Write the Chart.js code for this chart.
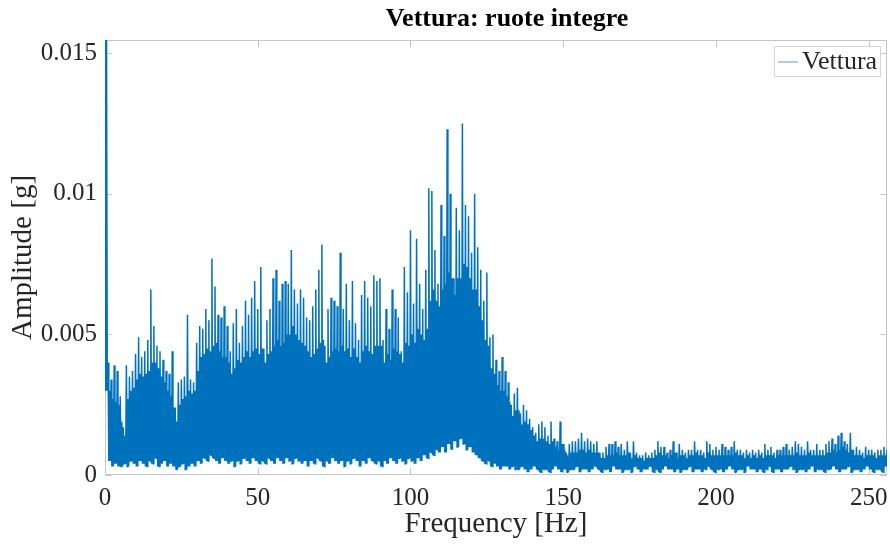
<!DOCTYPE html>
<html>
<head>
<meta charset="utf-8">
<title>Vettura: ruote integre</title>
<script src="https://cdn.jsdelivr.net/npm/chart.js@4/dist/chart.umd.min.js"></script>
<style>
  html, body { margin: 0; padding: 0; background: #ffffff; }
  canvas { display: block; }
</style>
</head>
<body>
<canvas id="spectrum" width="890" height="546"></canvas>
<script>
// Amplitude spectrum, one entry per 1 Hz bin (0..256 Hz), in units of 0.1 mg
const UNIT = 1e-4;

// highest spike in each bin
const spikeTop = [
  154.7, 40, 34, 39, 37, 28, 17, 39, 35, 37,
  43, 49, 42, 44, 48, 66, 53, 46, 44, 41,
  37, 36, 44, 24, 33, 34, 35, 57, 34, 33,
  47, 53, 52, 59, 55, 77, 67, 57, 56, 60,
  53, 44, 54, 59, 47, 53, 62, 57, 63, 69,
  59, 74, 45, 55, 59, 70, 73, 62, 68, 69,
  68, 80, 66, 61, 66, 63, 56, 55, 60, 66,
  73, 82, 46, 59, 63, 62, 60, 79, 59, 68,
  55, 69, 54, 48, 64, 69, 63, 60, 71, 69,
  70, 48, 59, 52, 66, 59, 56, 44, 74, 65,
  87, 61, 84, 68, 59, 73, 102, 101, 80, 68,
  96, 85, 123, 100, 70, 95, 87, 125, 96, 92,
  79, 100, 81, 73, 62, 72, 49, 50, 41, 37,
  42, 37, 33, 25, 29, 31, 22, 25, 23, 20,
  17, 15, 18, 19, 17, 14, 19, 13, 12, 19,
  11, 8, 11, 12, 12, 13, 15, 12, 13, 12,
  11, 12, 8, 8, 10, 11, 11, 12, 10, 11,
  9, 12, 8, 12, 8, 7, 7, 8, 7, 8,
  9, 12, 10, 10, 8, 9, 12, 8, 11, 9,
  8, 9, 9, 12, 9, 9, 8, 12, 11, 9,
  10, 9, 11, 10, 9, 10, 12, 9, 9, 8,
  9, 8, 9, 8, 9, 8, 11, 9, 10, 8,
  9, 9, 10, 11, 9, 10, 12, 11, 10, 9,
  12, 9, 9, 11, 9, 9, 11, 12, 13, 11,
  14, 15, 12, 11, 15, 9, 10, 9, 8, 10,
  9, 9, 8, 9, 9, 10, 9
];

// upper edge of the dense part of each bin
const bandTop = [
  154.7, 30, 27, 26, 25, 19, 14, 27, 30, 31,
  34, 36, 35, 36, 37, 40, 40, 38, 35, 33,
  30, 28, 24, 19, 25, 27, 28, 30, 29, 30,
  37, 42, 43, 45, 44, 46, 47, 44, 42, 42,
  40, 36, 38, 41, 40, 42, 44, 42, 44, 45,
  43, 45, 40, 43, 44, 46, 48, 46, 47, 50,
  50, 53, 50, 48, 47, 46, 44, 42, 43, 45,
  47, 48, 40, 42, 44, 45, 44, 46, 44, 45,
  42, 45, 42, 40, 44, 46, 44, 43, 46, 46,
  46, 40, 43, 41, 45, 44, 43, 40, 47, 46,
  50, 47, 52, 50, 48, 52, 62, 66, 62, 60,
  66, 68, 72, 70, 64, 70, 70, 75, 74, 70,
  66, 66, 60, 55, 48, 46, 38, 36, 32, 30,
  30, 28, 26, 21, 23, 23, 18, 19, 18, 16,
  14, 12, 13, 13, 12, 11, 12, 10, 9, 11,
  9, 7, 8, 8, 8, 9, 9, 8, 9, 8,
  8, 8, 6, 6, 7, 7, 7, 8, 7, 7,
  7, 8, 6, 7, 6, 6, 5, 6, 6, 6,
  7, 8, 7, 7, 6, 7, 8, 6, 7, 7,
  6, 7, 7, 8, 7, 7, 6, 8, 7, 7,
  7, 7, 7, 7, 7, 7, 8, 7, 7, 6,
  7, 6, 7, 6, 7, 6, 7, 7, 7, 6,
  7, 7, 7, 7, 7, 7, 8, 7, 7, 7,
  8, 7, 7, 7, 7, 7, 8, 8, 9, 8,
  9, 10, 9, 8, 9, 7, 7, 7, 6, 7,
  7, 7, 6, 7, 7, 7, 7
];

// deepest dip in each bin
const bandBottom = [
  30, 5, 3, 4, 3, 3, 4, 3, 5, 4,
  3, 5, 4, 3, 5, 4, 6, 3, 4, 5,
  3, 4, 3, 2, 3, 4, 2, 3, 4, 3,
  5, 4, 6, 5, 7, 6, 5, 4, 6, 5,
  4, 5, 3, 5, 4, 6, 5, 4, 6, 5,
  4, 5, 4, 6, 5, 4, 6, 5, 4, 6,
  5, 4, 6, 5, 4, 5, 3, 5, 4, 6,
  5, 3, 5, 4, 6, 5, 4, 5, 3, 5,
  4, 6, 5, 3, 5, 4, 6, 5, 4, 5,
  3, 5, 4, 6, 5, 4, 6, 5, 4, 6,
  5, 4, 6, 5, 7, 6, 8, 7, 9, 8,
  10, 8, 11, 9, 12, 10, 13, 11, 9, 10,
  8, 7, 6, 5, 4, 5, 3, 4, 3, 2,
  3, 3, 2, 3, 2, 2, 3, 2, 1, 2,
  3, 2, 1, 2, 2, 1, 2, 3, 2, 1,
  2, 1, 2, 2, 3, 1, 2, 2, 1, 2,
  3, 2, 1, 2, 2, 1, 3, 2, 2, 1,
  2, 2, 1, 3, 2, 1, 2, 2, 3, 1,
  2, 1, 2, 3, 2, 2, 1, 2, 1, 2,
  2, 3, 1, 2, 2, 1, 2, 3, 2, 1,
  2, 2, 1, 2, 3, 2, 1, 2, 2, 1,
  3, 2, 2, 1, 2, 1, 2, 3, 1, 2,
  2, 1, 2, 2, 3, 2, 1, 2, 2, 1,
  2, 3, 1, 2, 2, 1, 2, 2, 3, 2,
  1, 2, 2, 3, 1, 2, 2, 1, 2, 3,
  2, 1, 2, 2, 1, 3, 2
];

const xTickValues = [0, 50, 100, 150, 200, 250];
const xTickLabels = ['0', '50', '100', '150', '200', '250'];
const yTickValues = [0, 0.005, 0.01, 0.015];
const yTickLabels = ['0', '0.005', '0.01', '0.015'];
const freqMax = 256;
const ampMax = 0.01547;
const chartTitle = 'Vettura: ruote integre';

const SERIF = "'Liberation Serif', 'Times New Roman', serif";
const LINE_BLUE = '#0072BD';
const BOX_GREY = '#c6c6c6';
const TEXT_DARK = '#262626';

// each bin is traced as spike -> dip -> band top -> dip
const trace = [];
for (let i = 0; i < spikeTop.length; i++) {
  trace.push({ x: i,        y: spikeTop[i] * UNIT });
  trace.push({ x: i + 0.25, y: bandBottom[i] * UNIT });
  trace.push({ x: i + 0.5,  y: bandTop[i] * UNIT });
  trace.push({ x: i + 0.75, y: bandBottom[i] * UNIT });
}

// axes box with inward tick marks on all four sides
const axesBox = {
  id: 'axesBox',
  beforeDatasetsDraw(chart) {
    const { ctx, chartArea: a, scales } = chart;
    const L = Math.round(a.left) + 0.5, R = Math.round(a.right) - 0.5;
    const T = Math.round(a.top) + 0.5, B = Math.round(a.bottom) - 0.5;
    ctx.save();
    ctx.strokeStyle = BOX_GREY;
    ctx.lineWidth = 1;
    ctx.strokeRect(L, T, R - L, B - T);
    ctx.beginPath();
    scales.x.ticks.forEach(t => {
      const px = Math.round(scales.x.getPixelForValue(t.value)) + 0.5;
      ctx.moveTo(px, B); ctx.lineTo(px, B - 7);
      ctx.moveTo(px, T); ctx.lineTo(px, T + 7);
    });
    scales.y.ticks.forEach(t => {
      const py = Math.round(scales.y.getPixelForValue(t.value)) + 0.5;
      ctx.moveTo(L, py); ctx.lineTo(L + 6, py);
      ctx.moveTo(R, py); ctx.lineTo(R - 6, py);
    });
    ctx.stroke();
    ctx.restore();
  }
};

// bold title above the plot box
const plotTitle = {
  id: 'plotTitle',
  afterDraw(chart) {
    const { ctx, chartArea: a } = chart;
    ctx.save();
    ctx.font = 'bold 26px ' + SERIF;
    ctx.fillStyle = '#000000';
    ctx.textAlign = 'center';
    ctx.textBaseline = 'alphabetic';
    ctx.fillText(chartTitle, (a.left + a.right) / 2 + 11, 26);
    ctx.restore();
  }
};

// boxed legend in the upper right corner of the plot
const cornerLegend = {
  id: 'cornerLegend',
  afterDraw(chart) {
    const { ctx, chartArea: a } = chart;
    const ds = chart.data.datasets[0];
    ctx.save();
    ctx.font = '26px ' + SERIF;
    const tw = ctx.measureText(ds.label).width;
    const h = 31, sample = 20;
    const w = Math.round(4 + sample + 4 + tw + 4);
    const x0 = Math.round(a.right - 6 - w), y0 = Math.round(a.top + 6);
    ctx.fillStyle = '#ffffff';
    ctx.fillRect(x0, y0, w, h);
    ctx.strokeStyle = '#d4d4d4';
    ctx.lineWidth = 1;
    ctx.strokeRect(x0 + 0.5, y0 + 0.5, w - 1, h - 1);
    ctx.strokeStyle = '#5b9bd0';
    ctx.beginPath();
    ctx.moveTo(x0 + 4, y0 + 16);
    ctx.lineTo(x0 + 4 + sample, y0 + 16);
    ctx.stroke();
    ctx.fillStyle = TEXT_DARK;
    ctx.textBaseline = 'middle';
    ctx.textAlign = 'left';
    ctx.fillText(ds.label, x0 + 4 + sample + 4, y0 + h / 2 + 1);
    ctx.restore();
  }
};

// keep the plot box at a fixed size regardless of label overhang
const noOverhang = s => {
  s.paddingLeft = 0; s.paddingRight = 0;
  s.paddingTop = 0; s.paddingBottom = 0;
};

new Chart(document.getElementById('spectrum'), {
  type: 'line',
  data: {
    datasets: [{
      label: 'Vettura',
      data: trace,
      borderColor: LINE_BLUE,
      borderWidth: 1.5,
      pointRadius: 0,
      tension: 0,
      fill: false
    }]
  },
  options: {
    responsive: false,
    animation: false,
    devicePixelRatio: 1,
    parsing: false,
    normalized: true,
    layout: { padding: { top: 40, right: 3, bottom: 0, left: 0 } },
    plugins: {
      legend: { display: false },
      tooltip: { enabled: false },
      title: { display: false }
    },
    scales: {
      x: {
        type: 'linear',
        min: 0,
        max: freqMax,
        afterBuildTicks: s => { s.ticks = xTickValues.map(v => ({ value: v })); },
        afterFit: s => { s.height = 71; noOverhang(s); },
        grid: { display: false, drawTicks: false },
        border: { display: false },
        ticks: {
          autoSkip: false,
          maxRotation: 0,
          padding: 8,
          color: TEXT_DARK,
          font: { family: SERIF, size: 25 },
          callback: (v, i) => xTickLabels[i]
        },
        title: {
          display: true,
          text: 'Frequency [Hz]',
          color: TEXT_DARK,
          font: { family: SERIF, size: 29 },
          padding: { top: 0, bottom: 4 }
        }
      },
      y: {
        type: 'linear',
        min: 0,
        max: ampMax,
        afterBuildTicks: s => { s.ticks = yTickValues.map(v => ({ value: v })); },
        afterFit: s => { s.width = 105; noOverhang(s); },
        grid: { display: false, drawTicks: false },
        border: { display: false },
        ticks: {
          autoSkip: false,
          padding: 8,
          color: TEXT_DARK,
          font: { family: SERIF, size: 25 },
          callback: (v, i) => yTickLabels[i]
        },
        title: {
          display: true,
          text: 'Amplitude [g]',
          color: TEXT_DARK,
          font: { family: SERIF, size: 29 },
          padding: { top: 6, bottom: 0 }
        }
      }
    }
  },
  plugins: [axesBox, plotTitle, cornerLegend]
});
</script>
</body>
</html>
